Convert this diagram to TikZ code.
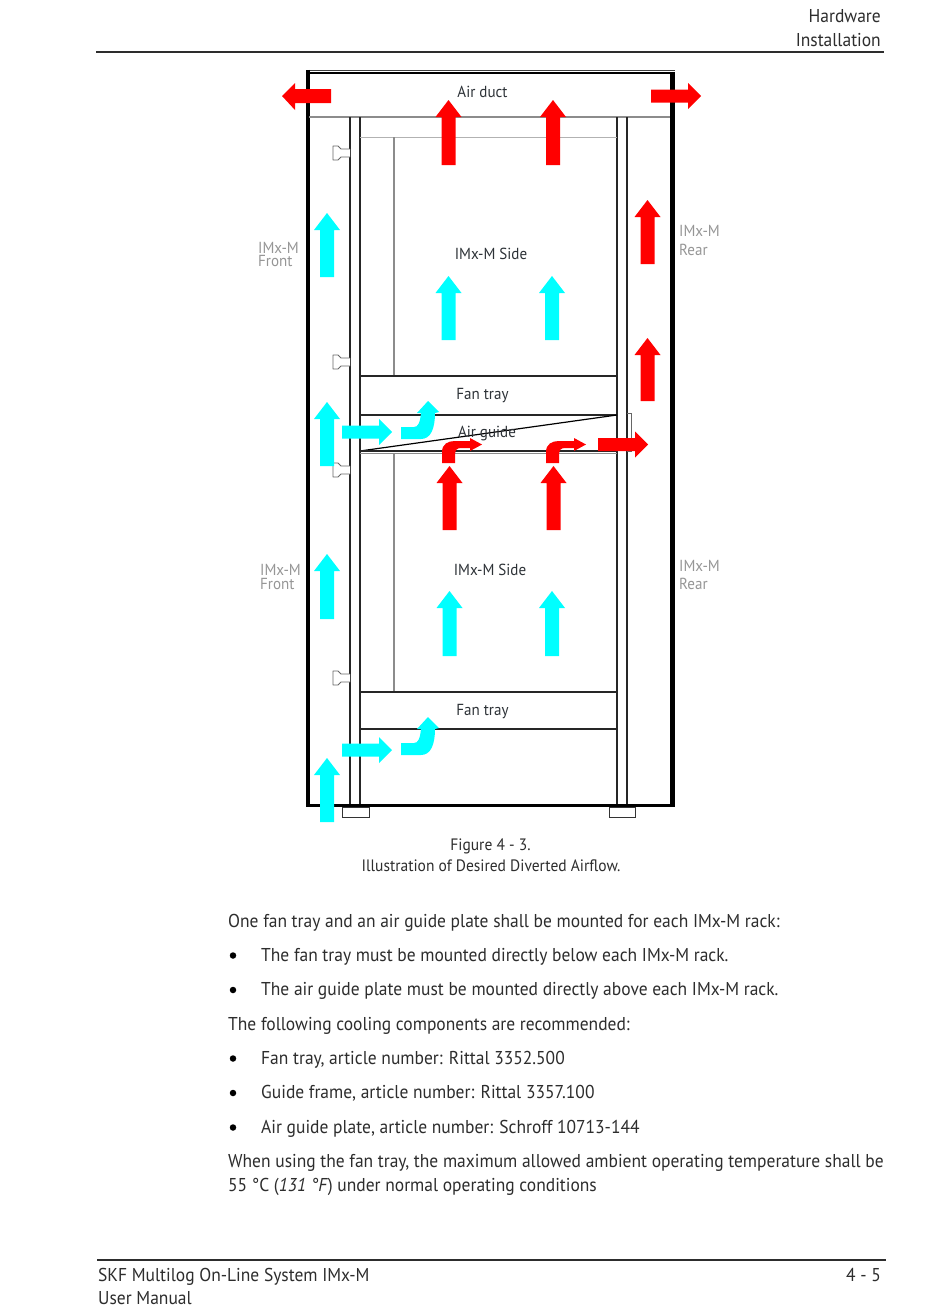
\documentclass[tikz,border=0pt]{standalone}
\usepackage{fontspec}
\setmainfont[FakeStretch=0.94]{PT Sans}
\definecolor{airred}{RGB}{255,0,0}
\definecolor{aircyan}{RGB}{0,255,255}
\definecolor{ink}{RGB}{45,45,45}
\definecolor{lab}{RGB}{45,50,55}
\definecolor{greylab}{RGB}{150,150,150}
\definecolor{greyline}{RGB}{140,140,140}
\tikzset{
 bodytext/.style={anchor=base west,inner sep=0pt,font=\fontsize{18.6}{20}\selectfont,text=ink},
 bodyright/.style={anchor=base east,inner sep=0pt,font=\fontsize{18.6}{20}\selectfont,text=ink},
 captext/.style={anchor=base,inner sep=0pt,font=\fontsize{16.5}{18}\selectfont,text=ink},
 figlabel/.style={anchor=base,inner sep=0pt,font=\fontsize{16}{17}\selectfont,text=lab},
 sidelabel/.style={anchor=base west,inner sep=0pt,font=\fontsize{16}{17}\selectfont,text=greylab},
 bulletdot/.style={circle,fill=black,inner sep=0pt,minimum size=6.5pt},
 thinline/.style={line width=1.2pt,draw=black!85},
 greythin/.style={line width=1.2pt,draw=greyline},
 clipshape/.style={line width=.9pt,draw=black!60,fill=white,line join=round}
}
\newcommand{\airup}[4]{\fill[#4] (#1-7,#3) -- (#1-7,#2+17) -- (#1-13,#2+17) -- (#1,#2) -- (#1+13,#2+17) -- (#1+7,#2+17) -- (#1+7,#3) -- cycle;}
\newcommand{\airright}[4]{\fill[#4] (#1,#3-6.5) -- (#2-13,#3-6.5) -- (#2-13,#3-13) -- (#2,#3) -- (#2-13,#3+13) -- (#2-13,#3+6.5) -- (#1,#3+6.5) -- cycle;}
\newcommand{\aircurveup}[1]{\fill[aircyan,shift={(0,#1)}] (401,427) -- (414,427) .. controls (418,427) and (420,423) .. (421,413) -- (417,413) -- (428,401) -- (439,412) -- (435,413) .. controls (435,428) and (431,439) .. (421,439) -- (401,439) -- cycle;}
\newcommand{\aircurveright}[1]{\fill[airred,shift={(#1,0)}] (442,463) -- (442,452) .. controls (442,444) and (448,441) .. (455,441) -- (470,441) -- (470,438) -- (482,444.5) -- (470,451) -- (470,448) -- (461,448) .. controls (457,448) and (455,450) .. (455,455) -- (455,463) -- cycle;}
\newcommand{\railclip}[1]{\draw[clipshape,shift={(0,#1)}] (350,-4) -- (341,-4) -- (338,-7) -- (333,-7) -- (333,7) -- (338,7) -- (341,4) -- (350,4);}
\begin{document}
\begin{tikzpicture}[x=1pt,y=-1pt]
\useasboundingbox (0,0) rectangle (950,1306);
\fill[white] (0,0) rectangle (950,1306);
% header
\node[bodyright] (hdA) at (881,23) {Hardware};
\node[bodyright] (hdB) at (881,47) {Installation};
\draw[line width=1.3pt,ink] (96,52) -- (884,52);
% cabinet
\draw[line width=1.4pt,black!75] (306,70.5) -- (675,70.5);
\draw[line width=2.2pt,black] (309,73.3) -- (671,73.3);
\draw[line width=3.6pt,black] (307.7,70) -- (307.7,805.5) -- (672,805.5);
\draw[line width=5pt,black] (672.5,72) -- (672.5,807.2);
\draw[line width=1.5pt,greyline] (309,117) -- (670,117);
% rails
\draw[thinline] (350,117) -- (350,804);
\draw[thinline] (360,117) -- (360,804);
\draw[thinline] (617,117) -- (617,804);
\draw[thinline] (627,117) -- (627,804);
% rack 1
\draw[line width=1pt,black!30] (360,137) -- (617,137);
\draw[greythin] (394,137) -- (394,376);
\draw[thinline] (360,376) -- (617,376);
\draw[thinline] (360,415) -- (617,415);
% air guide
\draw[line width=.8pt,black!60] (627,413.5) -- (631,413.5) -- (631,451) -- (627,451);
\draw[line width=1.2pt,black] (360,451) -- (617,415);
\draw[thinline] (360,451) -- (617,451);
\draw[line width=1pt,black!45] (360,453.3) -- (617,453.3);
% rack 2
\draw[greythin] (394,453) -- (394,692);
\draw[thinline] (360,692) -- (617,692);
\draw[thinline] (360,729) -- (617,729);
% feet
\draw[line width=.9pt,black!80] (342,807) rectangle (369,817);
\draw[line width=.9pt,black!80] (609,807) rectangle (635,817);
% clips
\railclip{153}\railclip{362}\railclip{470}\railclip{678}
% labels
\node[figlabel] (duct) at (482.5,97) {Air duct};
\node[figlabel] (sideA) at (491,259) {IMx-M Side};
\node[figlabel] (sideB) at (490,575) {IMx-M Side};
\node[figlabel] (trayA) at (482.5,399) {Fan tray};
\node[figlabel] (trayB) at (482.5,715) {Fan tray};
\node[figlabel] (guide) at (487,437) {Air guide};
\node[sidelabel] (fa) at (258,253) {IMx-M};
\node[sidelabel] (fb) at (258,266) {Front};
\node[sidelabel] (fc) at (260,575) {IMx-M};
\node[sidelabel] (fd) at (260,589) {Front};
\node[sidelabel] (ra) at (679,236) {IMx-M};
\node[sidelabel] (rb) at (679,255) {Rear};
\node[sidelabel] (rc) at (679,571) {IMx-M};
\node[sidelabel] (rd) at (679,589) {Rear};
% arrows
\airup{448.5}{100}{165}{airred}
\airup{553}{100}{165}{airred}
\airup{647.5}{200}{264}{airred}
\airup{647.5}{338}{401}{airred}
\airup{449.5}{466}{530}{airred}
\airup{553.5}{466}{530}{airred}
\airright{651}{701}{96}{airred}
\fill[airred] (331,89) -- (295,89) -- (295,83) -- (282,96) -- (295,110) -- (295,103) -- (331,103) -- cycle;
\airright{598}{648}{444.5}{airred}
\aircurveright{0}
\aircurveright{104}
\airup{327}{213}{277}{aircyan}
\airup{327}{402}{466}{aircyan}
\airup{327}{554}{619}{aircyan}
\airup{327}{758}{822}{aircyan}
\airup{448.5}{276}{340}{aircyan}
\airup{552}{276}{340}{aircyan}
\airup{449.5}{591}{656}{aircyan}
\airup{552}{591}{656}{aircyan}
\airright{342}{392}{432}{aircyan}
\airright{342}{392}{750}{aircyan}
\aircurveup{0}
\aircurveup{316}
% caption
\node[captext] (capA) at (490.5,850) {Figure 4 - 3.};
\node[captext] (capB) at (491,871) {Illustration of Desired Diverted Airflow.};
% body
\node[bodytext] (b1) at (228,927) {One fan tray and an air guide plate shall be mounted for each IMx-M rack:};
\node[bulletdot] (d1) at (233,955.5) {};
\node[bodytext] (b2) at (261,961) {The fan tray must be mounted directly below each IMx-M rack.};
\node[bulletdot] (d2) at (233,990) {};
\node[bodytext] (b3) at (261,995) {The air guide plate must be mounted directly above each IMx-M rack.};
\node[bodytext] (b4) at (228,1030) {The following cooling components are recommended:};
\node[bulletdot] (d3) at (233,1058.5) {};
\node[bodytext] (b5) at (261,1064) {Fan tray, article number: Rittal 3352.500};
\node[bulletdot] (d4) at (233,1093) {};
\node[bodytext] (b6) at (261,1098) {Guide frame, article number: Rittal 3357.100};
\node[bulletdot] (d5) at (233,1127.5) {};
\node[bodytext] (b7) at (261,1133) {Air guide plate, article number: Schroff 10713-144};
\node[bodytext] (b8) at (228,1167) {When using the fan tray, the maximum allowed ambient operating temperature shall be};
\node[bodytext] (b9) at (228,1191) {55 °C (\textit{131 °F}) under normal operating conditions};
% footer
\draw[line width=1.3pt,ink] (97,1260) -- (886,1260);
\node[bodytext] (ftA) at (98,1281) {SKF Multilog On-Line System IMx-M};
\node[bodytext] (ftB) at (98,1304.5) {User Manual};
\node[bodyright] (ftC) at (881,1281) {4 - 5};
\end{tikzpicture}
\end{document}
